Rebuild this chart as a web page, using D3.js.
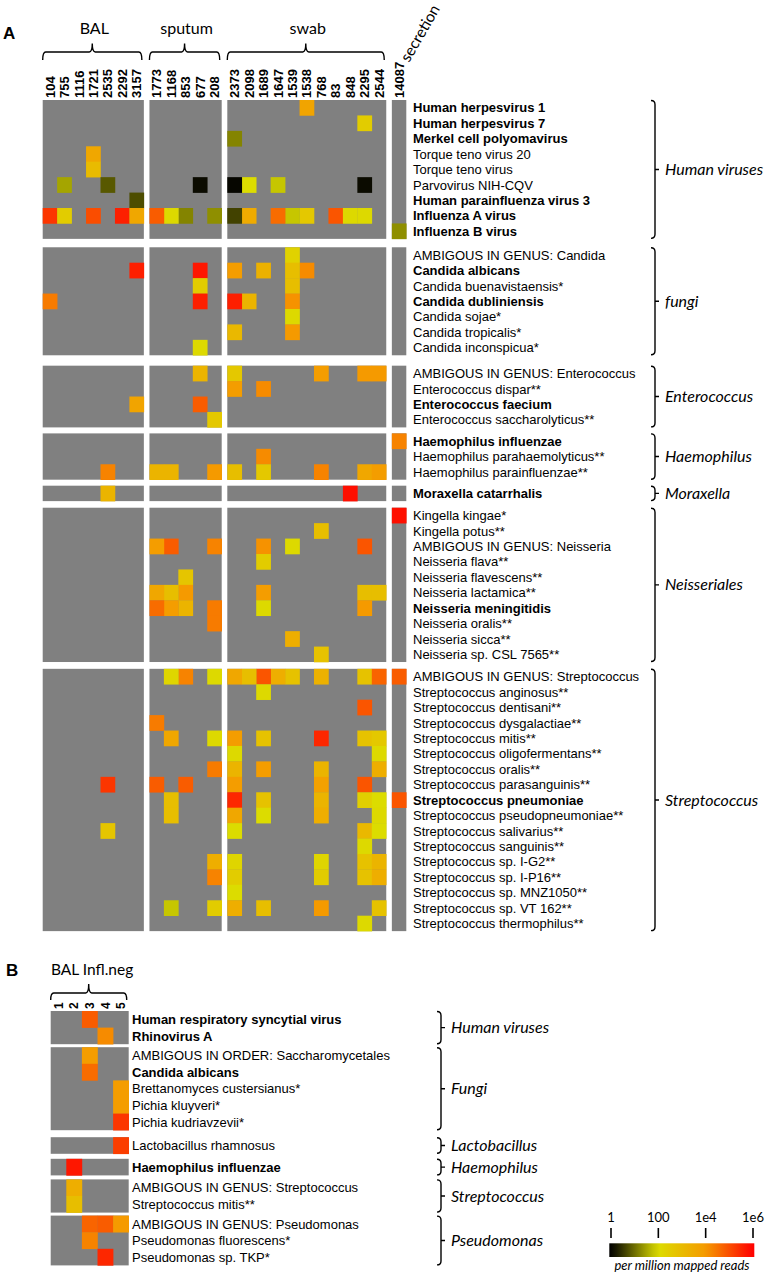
<!DOCTYPE html>
<html><head><meta charset="utf-8">
<script src="https://cdn.jsdelivr.net/npm/d3@7"></script>
<style>body{margin:0;background:#fff} svg{display:block}</style>
</head><body>
<svg id="chart" width="770" height="1276"></svg>
<script>
// ---------------- DATA (values = log10 of per-million mapped reads) ----------------
const samplesBAL = ["104","755","1116","1721","2535","2292","3157"];
const samplesSputum = ["1773","1168","853","677","208"];
const samplesSwab = ["2373","2098","1689","1647","1539","1538","768","83","848","2295","2544"];
const samplesSecretion = ["14087"];
const sampleGroupNamesA = ["BAL","sputum","swab","secretion"];

const groupNamesA = ["Human viruses","fungi","Enterococcus","Haemophilus","Moraxella","Neisseriales","Streptococcus"];

const rowsHumanViruses = [
  {taxon:"Human herpesvirus 1", bold:true, v:{"1538":3.7}},
  {taxon:"Human herpesvirus 7", bold:true, v:{"2295":2.5}},
  {taxon:"Merkel cell polyomavirus", bold:true, v:{"2373":1.2}},
  {taxon:"Torque teno virus 20", bold:false, v:{"1721":3.6}},
  {taxon:"Torque teno virus", bold:false, v:{"1721":3.0}},
  {taxon:"Parvovirus NIH-CQV", bold:false, v:{"755":1.5,"2535":0.8,"677":0.1,"2373":0.05,"2098":2.0,"1647":1.8,"2295":0.1}},
  {taxon:"Human parainfluenza virus 3", bold:true, v:{"3157":0.7}},
  {taxon:"Influenza A virus", bold:true, v:{"104":5.3,"755":2.5,"1721":5.0,"2292":5.6,"3157":3.6,"1773":4.8,"1168":2.1,"853":1.2,"208":1.3,"2373":0.6,"2098":3.5,"1647":4.6,"1539":1.8,"1538":2.6,"83":4.9,"848":2.1,"2295":2.1}},
  {taxon:"Influenza B virus", bold:true, v:{"14087":1.3}}
];
const rowsFungi = [
  {taxon:"AMBIGOUS IN GENUS: Candida", bold:false, v:{"1539":2.3}},
  {taxon:"Candida albicans", bold:true, v:{"3157":5.6,"677":5.7,"2373":3.9,"1689":3.3,"1539":2.9,"1538":4.2}},
  {taxon:"Candida buenavistaensis*", bold:false, v:{"677":2.5,"1539":2.9}},
  {taxon:"Candida dubliniensis", bold:true, v:{"104":4.4,"677":5.6,"2373":5.6,"2098":3.2,"1539":4.1}},
  {taxon:"Candida sojae*", bold:false, v:{"1539":2.1}},
  {taxon:"Candida tropicalis*", bold:false, v:{"2373":3.1,"1539":4.0}},
  {taxon:"Candida inconspicua*", bold:false, v:{"677":2.1}}
];
const rowsEnterococcus = [
  {taxon:"AMBIGOUS IN GENUS: Enterococcus", bold:false, v:{"677":3.2,"2373":2.6,"768":3.9,"2295":4.0,"2544":4.0}},
  {taxon:"Enterococcus dispar**", bold:false, v:{"2373":3.9,"1689":4.2}},
  {taxon:"Enterococcus faecium", bold:true, v:{"3157":3.7,"677":4.8}},
  {taxon:"Enterococcus saccharolyticus**", bold:false, v:{"208":2.6}}
];
const rowsHaemophilus = [
  {taxon:"Haemophilus influenzae", bold:true, v:{"14087":4.3}},
  {taxon:"Haemophilus parahaemolyticus**", bold:false, v:{"1689":4.2}},
  {taxon:"Haemophilus parainfluenzae**", bold:false, v:{"2535":4.3,"1773":3.2,"1168":3.2,"208":4.0,"2373":2.9,"1689":2.6,"768":4.3,"2295":3.6,"2544":3.9}}
];
const rowsMoraxella = [
  {taxon:"Moraxella catarrhalis", bold:true, v:{"2535":3.2,"848":5.8}}
];
const rowsNeisseriales = [
  {taxon:"Kingella kingae*", bold:false, v:{"14087":5.8}},
  {taxon:"Kingella potus**", bold:false, v:{"768":2.9}},
  {taxon:"AMBIGOUS IN GENUS: Neisseria", bold:false, v:{"1773":3.9,"1168":4.8,"208":4.3,"1689":4.1,"1539":2.1,"2295":4.9}},
  {taxon:"Neisseria flava**", bold:false, v:{"1689":2.5}},
  {taxon:"Neisseria flavescens**", bold:false, v:{"853":2.7}},
  {taxon:"Neisseria lactamica**", bold:false, v:{"1773":3.6,"1168":2.9,"853":4.0,"1689":3.9,"2295":2.9,"2544":2.9}},
  {taxon:"Neisseria meningitidis", bold:true, v:{"1773":4.6,"1168":3.9,"853":3.2,"208":4.4,"1689":2.1,"2295":4.0}},
  {taxon:"Neisseria oralis**", bold:false, v:{"208":4.4}},
  {taxon:"Neisseria sicca**", bold:false, v:{"1539":3.4}},
  {taxon:"Neisseria sp. CSL 7565**", bold:false, v:{"768":2.8}}
];
const rowsStreptococcus = [
  {taxon:"AMBIGOUS IN GENUS: Streptococcus", bold:false, v:{"1168":2.2,"853":4.3,"208":2.1,"2373":3.6,"2098":2.9,"1689":4.9,"1647":3.4,"1539":2.8,"768":3.3,"2295":2.8,"2544":4.7,"14087":4.8}},
  {taxon:"Streptococcus anginosus**", bold:false, v:{"1689":2.1}},
  {taxon:"Streptococcus dentisani**", bold:false, v:{"2295":4.9}},
  {taxon:"Streptococcus dysgalactiae**", bold:false, v:{"1773":4.4}},
  {taxon:"Streptococcus mitis**", bold:false, v:{"1168":3.6,"208":2.1,"2373":3.9,"1689":2.8,"768":5.5,"2295":2.8,"2544":2.6}},
  {taxon:"Streptococcus oligofermentans**", bold:false, v:{"2373":2.1,"2544":2.1}},
  {taxon:"Streptococcus oralis**", bold:false, v:{"208":4.4,"2373":3.2,"1689":3.9,"768":3.2,"2544":3.4}},
  {taxon:"Streptococcus parasanguinis**", bold:false, v:{"2535":5.3,"1773":4.8,"853":4.8,"2373":3.9,"768":3.8,"2295":4.9}},
  {taxon:"Streptococcus pneumoniae", bold:true, v:{"1168":2.9,"2373":5.5,"1689":2.8,"768":3.2,"2295":2.4,"2544":2.0,"14087":4.9}},
  {taxon:"Streptococcus pseudopneumoniae**", bold:false, v:{"1168":2.9,"2373":3.6,"1689":2.0,"768":3.4,"2544":2.1}},
  {taxon:"Streptococcus salivarius**", bold:false, v:{"2535":2.7,"2373":2.0,"2295":3.1,"2544":2.0}},
  {taxon:"Streptococcus sanguinis**", bold:false, v:{"2295":2.1}},
  {taxon:"Streptococcus sp. I-G2**", bold:false, v:{"208":3.4,"2373":2.2,"768":2.2,"2295":2.8,"2544":3.2}},
  {taxon:"Streptococcus sp. I-P16**", bold:false, v:{"208":4.3,"2373":2.5,"768":2.5,"2295":2.8,"2544":3.4}},
  {taxon:"Streptococcus sp. MNZ1050**", bold:false, v:{"2373":2.0}},
  {taxon:"Streptococcus sp. VT 162**", bold:false, v:{"1168":1.8,"208":2.5,"2373":3.4,"1689":2.9,"768":4.0,"2544":2.8}},
  {taxon:"Streptococcus thermophilus**", bold:false, v:{"2295":2.1}}
];

// Panel B
const samplesBALInflNeg = ["1","2","3","4","5"];
const groupNamesB = ["Human viruses","Fungi","Lactobacillus","Haemophilus","Streptococcus","Pseudomonas"];
const rowsBHumanViruses = [
  {taxon:"Human respiratory syncytial virus", bold:true, v:{"3":4.8}},
  {taxon:"Rhinovirus A", bold:true, v:{"4":4.2}}
];
const rowsBFungi = [
  {taxon:"AMBIGOUS IN ORDER: Saccharomycetales", bold:false, v:{"3":3.9}},
  {taxon:"Candida albicans", bold:true, v:{"3":4.6}},
  {taxon:"Brettanomyces custersianus*", bold:false, v:{"5":3.9}},
  {taxon:"Pichia kluyveri*", bold:false, v:{"5":3.9}},
  {taxon:"Pichia kudriavzevii*", bold:false, v:{"5":5.3}}
];
const rowsBLactobacillus = [
  {taxon:"Lactobacillus rhamnosus", bold:false, v:{"5":5.2}}
];
const rowsBHaemophilus = [
  {taxon:"Haemophilus influenzae", bold:true, v:{"2":5.7}}
];
const rowsBStreptococcus = [
  {taxon:"AMBIGOUS IN GENUS: Streptococcus", bold:false, v:{"2":3.4}},
  {taxon:"Streptococcus mitis**", bold:false, v:{"2":2.9}}
];
const rowsBPseudomonas = [
  {taxon:"AMBIGOUS IN GENUS: Pseudomonas", bold:false, v:{"3":4.7,"4":4.8,"5":4.0}},
  {taxon:"Pseudomonas fluorescens*", bold:false, v:{"3":4.3}},
  {taxon:"Pseudomonas sp. TKP*", bold:false, v:{"4":5.5}}
];

// legend
const legendTickValues = [1, 100, 1e4, 1e6];
const legendTickLabels = ["1","100","1e4","1e6"];

// ---------------- DRAWING ----------------
const svg = d3.select("#chart");
const ARIAL = "'Liberation Sans', Arial, sans-serif";
const CAL = "Lato, 'Open Sans', sans-serif";
const GRAY = "#808080";

const color = d3.scaleLinear()
  .domain([0, 2, 4, 6])
  .range(["#000000", "#dcdc00", "#f59a00", "#ff0000"])
  .clamp(true);

function hBrace(x1, x2, yb, yl, yp) {
  const xm = (x1 + x2) / 2, r = 3;
  return `M${x1},${yb} Q${x1},${yl} ${x1 + r},${yl} L${xm - r},${yl} Q${xm},${yl} ${xm},${yp} ` +
         `Q${xm},${yl} ${xm + r},${yl} L${x2 - r},${yl} Q${x2},${yl} ${x2},${yb}`;
}
function vBrace(bx, top, bottom) {
  const mid = (top + bottom) / 2, r = 4;
  return `M${bx - r},${top} Q${bx},${top} ${bx},${top + r} L${bx},${bottom - r} Q${bx},${bottom} ${bx - r},${bottom} ` +
         `M${bx},${mid} L${bx + 4},${mid}`;
}

function drawPanel(cfg) {
  const g = svg.append("g");
  const allSamples = cfg.colGroups.flat();
  const xs = d3.scaleLinear().domain([0, allSamples.length]).range([cfg.x0, cfg.x0 + allSamples.length * cfg.cw]);
  const colInfo = {};
  const colGroupExt = [];
  let idx = 0;
  cfg.colGroups.forEach((samples, gi) => {
    const off = gi * cfg.colGap;
    const start = xs(idx) + off;
    samples.forEach(s => { colInfo[s] = xs(idx) + off; idx++; });
    colGroupExt.push([start, xs(idx) + off]);
  });
  const totalRows = d3.sum(cfg.rowGroups, r => r.length);
  const ys = d3.scaleLinear().domain([0, totalRows]).range([cfg.y0, cfg.y0 + totalRows * cfg.rh]);
  let rs = 0, gapAcc = 0;
  const blocks = cfg.rowGroups.map((rows, gi) => {
    gapAcc += cfg.rowGaps[gi];
    const top = ys(rs) + gapAcc;
    rs += rows.length;
    return { rows, top, bottom: ys(rs) + gapAcc, name: cfg.groupNames[gi] };
  });

  blocks.forEach(b => {
    colGroupExt.forEach(([a, z]) => {
      g.append("rect").attr("x", a).attr("y", b.top).attr("width", z - a).attr("height", b.bottom - b.top).attr("fill", GRAY);
    });
    b.rows.forEach((row, ri) => {
      const y = b.top + ri * cfg.rh;
      Object.entries(row.v).forEach(([s, val]) => {
        g.append("rect").attr("x", colInfo[s]).attr("y", y).attr("width", cfg.cw + 0.3).attr("height", cfg.rh + 0.3)
          .attr("fill", color(val));
      });
      g.append("text").attr("x", cfg.labelX).attr("y", y + cfg.rh / 2).attr("dy", "0.36em")
        .attr("font-family", ARIAL).attr("font-size", cfg.labelSize).attr("font-weight", row.bold ? "bold" : "normal")
        .attr("fill", "#000").text(row.taxon);
    });
    g.append("path").attr("d", vBrace(cfg.braceX, b.top + 0.5, b.bottom - 0.5)).attr("fill", "none")
      .attr("stroke", "#000").attr("stroke-width", 1.4);
    g.append("text").attr("x", cfg.braceX + 10).attr("y", (b.top + b.bottom) / 2).attr("dy", "0.35em")
      .attr("font-family", CAL).attr("font-style", "italic").attr("font-size", cfg.groupSize).text(b.name);
  });

  allSamples.forEach(s => {
    g.append("text").attr("transform", `translate(${colInfo[s] + cfg.cw / 2},${cfg.colLabelY}) rotate(-90)`)
      .attr("dy", "0.36em").attr("text-anchor", "start")
      .attr("font-family", ARIAL).attr("font-weight", "bold").attr("font-size", cfg.colLabelSize).text(s);
  });
  return { colGroupExt, blocks };
}

// Panel A
const panelA = drawPanel({
  colGroups: [samplesBAL, samplesSputum, samplesSwab, samplesSecretion],
  rowGroups: [rowsHumanViruses, rowsFungi, rowsEnterococcus, rowsHaemophilus, rowsMoraxella, rowsNeisseriales, rowsStreptococcus],
  groupNames: groupNamesA,
  x0: 42.7, cw: 14.45, colGap: 5.6,
  y0: 100, rh: 15.43, rowGaps: [0, 8.4, 10.4, 6, 6, 6.6, 6.8],
  labelX: 413, labelSize: 13, braceX: 655, groupSize: 16,
  colLabelY: 98, colLabelSize: 13
});
panelA.colGroupExt.slice(0, 3).forEach(([a, z], i) => {
  svg.append("path").attr("d", hBrace(a, z - 2, 60, 52, 43.5)).attr("fill", "none").attr("stroke", "#000").attr("stroke-width", 1.4);
  svg.append("text").attr("x", (a + z) / 2 + 1).attr("y", 34).attr("text-anchor", "middle")
    .attr("font-family", CAL).attr("font-size", 16).text(sampleGroupNamesA[i]);
});
{
  const [a, z] = panelA.colGroupExt[3];
  svg.append("text").attr("transform", `translate(${(a + z) / 2 + 10},${63}) rotate(-60)`)
    .attr("font-family", CAL).attr("font-size", 15.5).text(sampleGroupNamesA[3]);
}
svg.append("text").attr("x", 3).attr("y", 39).attr("font-family", ARIAL).attr("font-weight", "bold").attr("font-size", 17).text("A");

// Panel B
const panelB = drawPanel({
  colGroups: [samplesBALInflNeg],
  rowGroups: [rowsBHumanViruses, rowsBFungi, rowsBLactobacillus, rowsBHaemophilus, rowsBStreptococcus, rowsBPseudomonas],
  groupNames: groupNamesB,
  x0: 50.7, cw: 15.6, colGap: 0,
  y0: 1011, rh: 16.6, rowGaps: [0, 3, 7, 5, 4, 3],
  labelX: 132, labelSize: 13, braceX: 441, groupSize: 16,
  colLabelY: 1009, colLabelSize: 12
});
{
  const [a, z] = panelB.colGroupExt[0];
  svg.append("path").attr("d", hBrace(a, z - 2, 1000, 993, 984)).attr("fill", "none").attr("stroke", "#000").attr("stroke-width", 1.4);
}
svg.append("text").attr("x", 51).attr("y", 975).attr("font-family", CAL).attr("font-size", 15.5).text("BAL Infl.neg");
svg.append("text").attr("x", 6).attr("y", 976).attr("font-family", ARIAL).attr("font-weight", "bold").attr("font-size", 17).text("B");

// Legend
const lx = d3.scaleLog().domain([1, 1e6]).range([611, 753]);
const defs = svg.append("defs");
const grad = defs.append("linearGradient").attr("id", "cbar").attr("x1", "0%").attr("x2", "100%");
const barX0 = 609.3, barX1 = 754.3;
d3.range(0, 1.0001, 0.05).forEach(t => {
  const xpix = barX0 + t * (barX1 - barX0);
  grad.append("stop").attr("offset", (t * 100) + "%").attr("stop-color", color(Math.log10(lx.invert(Math.max(611, Math.min(753, xpix))))));
});
svg.append("rect").attr("x", barX0).attr("y", 1243.3).attr("width", barX1 - barX0).attr("height", 13.7).attr("fill", "url(#cbar)");
legendTickValues.forEach((v, i) => {
  svg.append("line").attr("x1", lx(v)).attr("x2", lx(v)).attr("y1", 1228).attr("y2", 1238).attr("stroke", "#000").attr("stroke-width", 1.6);
  svg.append("text").attr("x", lx(v)).attr("y", 1221.5).attr("text-anchor", "middle").attr("font-family", CAL).attr("font-size", 13).text(legendTickLabels[i]);
});
svg.append("text").attr("x", 682).attr("y", 1270).attr("text-anchor", "middle").attr("font-family", CAL)
  .attr("font-style", "italic").attr("font-size", 13).text("per million mapped reads");
</script>
</body></html>
